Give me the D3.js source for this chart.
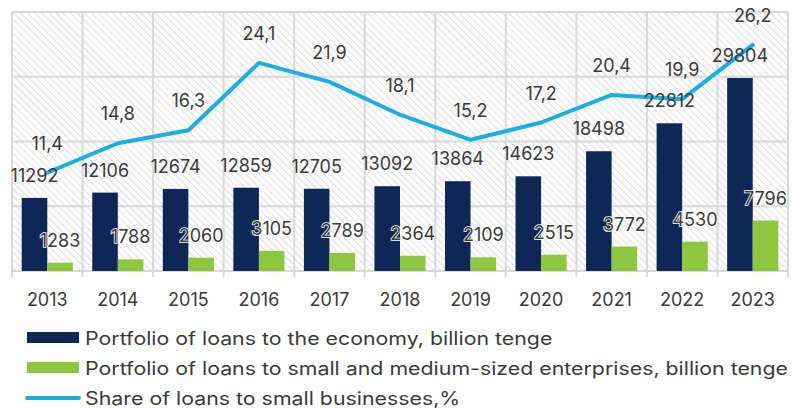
<!DOCTYPE html>
<html>
<head>
<meta charset="utf-8">
<script src="https://cdn.jsdelivr.net/npm/d3@7"></script>
<style>
  html, body { margin: 0; padding: 0; background: #ffffff; }
  svg { display: block; }
  text { font-family: Inter, "Open Sans", "Noto Sans", sans-serif; fill: #3a3a3a; }
</style>
</head>
<body>
<svg id="chart" width="793" height="408"></svg>
<script>
// Years on the category axis
const years = ["2013", "2014", "2015", "2016", "2017", "2018", "2019", "2020", "2021", "2022", "2023"];
// Portfolio of loans to the economy, billion tenge
const loansEconomy = [11292, 12106, 12674, 12859, 12705, 13092, 13864, 14623, 18498, 22812, 29804];
// Portfolio of loans to SMEs, billion tenge
const loansSme = [1283, 1788, 2060, 3105, 2789, 2364, 2109, 2515, 3772, 4530, 7796];
// Share of loans to small businesses, %
const shareSmall = [11.4, 14.8, 16.3, 24.1, 21.9, 18.1, 15.2, 17.2, 20.4, 19.9, 26.2];
// Gridline levels of the (hidden) left axis
const leftTicks = [0, 10000, 20000, 30000, 40000];

const seriesNames = [
  "Portfolio of loans to the economy, billion tenge",
  "Portfolio of loans to small and medium-sized enterprises, billion tenge",
  "Share of loans to small businesses,%"
];

const colors = { economy: "#0f2756", sme: "#8dc63f", share: "#1aaee5", grid: "#d9d9d9" };

const svg = d3.select("#chart");
const plot = { left: 12, right: 788, top: 12, bottom: 271 };

const x = d3.scaleBand().domain(years).range([plot.left, plot.right]).padding(0);
const xSub = d3.scaleBand().domain(["economy", "sme"]).range([0, x.bandwidth()])
  .paddingInner(0).paddingOuter(0.38);
const yLeft = d3.scaleLinear().domain([0, 40000]).range([plot.bottom, plot.top]);
const yRight = d3.scaleLinear().domain([0, 30]).range([plot.bottom, plot.top]);

// Diagonal hatch fill for the plot background
const defs = svg.append("defs");
const pat = defs.append("pattern")
  .attr("id", "hatch").attr("patternUnits", "userSpaceOnUse")
  .attr("width", 5).attr("height", 5)
  .attr("patternTransform", "rotate(-45)");
pat.append("rect").attr("width", 5).attr("height", 5).attr("fill", "#ffffff");
pat.append("line").attr("x1", 0).attr("y1", 0).attr("x2", 0).attr("y2", 5)
  .attr("stroke", "#dedede").attr("stroke-width", 2);

svg.append("rect")
  .attr("x", plot.left).attr("y", plot.top)
  .attr("width", plot.right - plot.left).attr("height", plot.bottom - plot.top)
  .attr("fill", "url(#hatch)");

// Horizontal gridlines
svg.append("g").selectAll("line").data(leftTicks).join("line")
  .attr("x1", plot.left).attr("x2", plot.right)
  .attr("y1", d => yLeft(d)).attr("y2", d => yLeft(d))
  .attr("stroke", colors.grid).attr("stroke-width", 2);

// Vertical gridlines at category boundaries, extending as tick marks
const bounds = years.map(y => x(y)).concat([x(years[years.length - 1]) + x.bandwidth()]);
svg.append("g").selectAll("line").data(bounds).join("line")
  .attr("x1", d => d).attr("x2", d => d)
  .attr("y1", plot.top).attr("y2", plot.bottom + 6)
  .attr("stroke", colors.grid).attr("stroke-width", 2);

// Bars
const rows = years.map((yr, i) => ({ year: yr, economy: loansEconomy[i], sme: loansSme[i], share: shareSmall[i] }));

const barG = svg.append("g");
["economy", "sme"].forEach(key => {
  barG.append("g").selectAll("rect").data(rows).join("rect")
    .attr("x", d => x(d.year) + xSub(key))
    .attr("y", d => yLeft(d[key]))
    .attr("width", xSub.bandwidth())
    .attr("height", d => yLeft(0) - yLeft(d[key]))
    .attr("fill", colors[key]);
});

// Share line
const line = d3.line()
  .x(d => x(d.year) + x.bandwidth() / 2)
  .y(d => yRight(d.share));
svg.append("path").datum(rows)
  .attr("d", line)
  .attr("fill", "none")
  .attr("stroke", colors.share)
  .attr("stroke-width", 4)
  .attr("stroke-linejoin", "round")
  .attr("stroke-linecap", "round");

// Bar value labels
const labelSize = 18;
["economy", "sme"].forEach(key => {
  svg.append("g").selectAll("text").data(rows).join("text")
    .attr("x", d => x(d.year) + xSub(key) + xSub.bandwidth() / 2)
    .attr("y", d => yLeft(d[key]) - 16)
    .attr("text-anchor", "middle")
    .attr("font-size", labelSize)
    .attr("stroke", "#ffffff").attr("stroke-width", key === "sme" ? 1.6 : 0)
    .attr("paint-order", "stroke")
    .text(d => d[key]);
});

// Line value labels (comma decimal)
const fmtShare = v => d3.format(".1f")(v).replace(".", ",");
svg.append("g").selectAll("text").data(rows).join("text")
  .attr("x", d => x(d.year) + x.bandwidth() / 2)
  .attr("y", d => yRight(d.share) - 23)
  .attr("text-anchor", "middle")
  .attr("font-size", labelSize)
  .text(d => fmtShare(d.share));

// Category axis labels
svg.append("g").selectAll("text").data(years).join("text")
  .attr("x", d => x(d) + x.bandwidth() / 2)
  .attr("y", 306)
  .attr("text-anchor", "middle")
  .attr("font-size", labelSize)
  .text(d => d);

// Legend
const legend = svg.append("g");
const legendRows = [
  { name: seriesNames[0], type: "rect", color: colors.economy },
  { name: seriesNames[1], type: "rect", color: colors.sme },
  { name: seriesNames[2], type: "line", color: colors.share }
];
const legendX = 85;
const legendTexts = legendRows.map((r, i) => {
  const baseY = 345 + i * 30;
  if (r.type === "rect") {
    legend.append("rect").attr("x", 27).attr("y", baseY - 13)
      .attr("width", 52).attr("height", 11).attr("fill", r.color);
  } else {
    legend.append("line").attr("x1", 27).attr("x2", 79)
      .attr("y1", baseY - 7).attr("y2", baseY - 7)
      .attr("stroke", r.color).attr("stroke-width", 4).attr("stroke-linecap", "round");
  }
  return legend.append("text").attr("x", legendX).attr("y", baseY)
    .attr("font-size", 18)
    .text(r.name);
});
// Widen the legend lettering so the longest entry reaches the plot's right edge
const widths = legendTexts.map(t => t.node().getComputedTextLength());
const stretch = (plot.right - legendX) / d3.max(widths);
legendTexts.forEach((t, i) => {
  t.attr("textLength", widths[i] * stretch).attr("lengthAdjust", "spacingAndGlyphs");
});
</script>
</body>
</html>
